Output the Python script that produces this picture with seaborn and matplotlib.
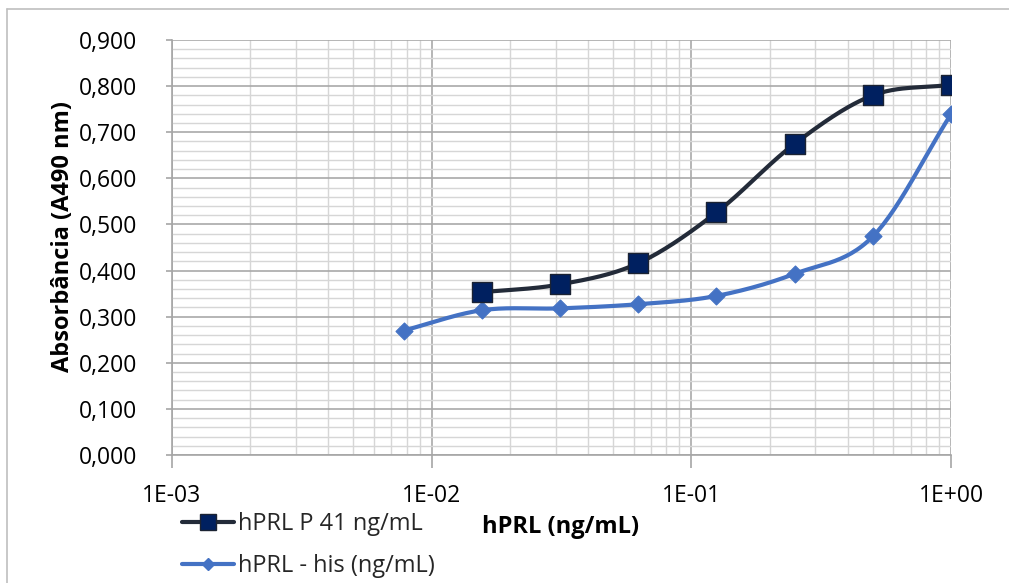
import numpy as np
import pandas as pd
import matplotlib
matplotlib.use("Agg")
import matplotlib.pyplot as plt
import seaborn as sns
from matplotlib.lines import Line2D
from matplotlib.ticker import FixedLocator, LogLocator, MultipleLocator, FuncFormatter, NullFormatter

# ---- data ----
x_p41 = [0.015625, 0.03125, 0.0625, 0.125, 0.25, 0.5, 1.0]
y_p41 = [0.353, 0.370, 0.416, 0.526, 0.675, 0.780, 0.803]
x_his = [0.0078125, 0.015625, 0.03125, 0.0625, 0.125, 0.25, 0.5, 1.0]
y_his = [0.270, 0.314, 0.318, 0.327, 0.345, 0.393, 0.474, 0.739]
label_p41 = "hPRL P 41 ng/mL"
label_his = "hPRL - his (ng/mL)"
x_ticks = [1e-3, 1e-2, 1e-1, 1e0]
x_tick_labels = ["1E-03", "1E-02", "1E-01", "1E+00"]
y_ticks = [0.0, 0.1, 0.2, 0.3, 0.4, 0.5, 0.6, 0.7, 0.8, 0.9]
x_title = "hPRL (ng/mL)"
y_title = "Absorbância (A490 nm)"

c_p41_line = "#232b39"
c_p41_fill = "#002060"
c_his = "#4472c4"

sns.set_theme(style="white")
plt.rcParams["font.family"] = ["Open Sans", "DejaVu Sans"]

W, H = 1009, 583
fig = plt.figure(figsize=(W / 100, H / 100), dpi=100)
L, R, T, B = 172, 951, 40, 455
ax = fig.add_axes([L / W, 1 - B / H, (R - L) / W, (B - T) / H])


def smooth(xs, ys, n=30):
    # Catmull-Rom style smoothing (like spreadsheet "smoothed line") in log-x display space
    lx = np.log10(np.asarray(xs, float))
    yy = np.asarray(ys, float)
    sx = (R - L) / 3.0
    sy = (B - T) / 0.9
    P = np.column_stack([lx * sx, yy * sy])
    P = np.vstack([P[0] - (P[1] - P[0]), P, P[-1] + (P[-1] - P[-2])])
    out = []
    t = np.linspace(0, 1, n)
    for i in range(1, len(P) - 2):
        p0, p1, p2, p3 = P[i - 1], P[i], P[i + 1], P[i + 2]
        tt = t[:, None]
        seg = 0.5 * ((2 * p1) + (-p0 + p2) * tt + (2 * p0 - 5 * p1 + 4 * p2 - p3) * tt ** 2
                     + (-p0 + 3 * p1 - 3 * p2 + p3) * tt ** 3)
        out.append(seg if i == 1 else seg[1:])
    out = np.vstack(out)
    return 10 ** (out[:, 0] / sx), out[:, 1] / sy


sx1, sy1 = smooth(x_p41, y_p41)
sx2, sy2 = smooth(x_his, y_his)
df_s1 = pd.DataFrame({"x": sx1, "y": sy1})
df_s2 = pd.DataFrame({"x": sx2, "y": sy2})
df_p1 = pd.DataFrame({"x": x_p41, "y": y_p41})
df_p2 = pd.DataFrame({"x": x_his, "y": y_his})

ax.set_xscale("log")
ax.set_xlim(1e-3, 1e0)
ax.set_ylim(0, 0.9)

# grid
ax.yaxis.set_major_locator(FixedLocator(y_ticks))
ax.yaxis.set_minor_locator(MultipleLocator(0.02))
ax.xaxis.set_major_locator(FixedLocator(x_ticks))
ax.xaxis.set_minor_locator(LogLocator(base=10, subs=np.arange(2, 10)))
ax.xaxis.set_minor_formatter(NullFormatter())
ax.grid(which="minor", color="#d6d6d6", lw=1.0, zorder=0)
ax.grid(which="major", color="#a9a9a9", lw=1.2, zorder=0)
ax.set_axisbelow(True)

sns.lineplot(data=df_s2, x="x", y="y", sort=False, ax=ax, color=c_his, lw=3.0,
             estimator=None, zorder=3)
sns.lineplot(data=df_s1, x="x", y="y", sort=False, ax=ax, color=c_p41_line, lw=3.0,
             estimator=None, zorder=4)
sns.scatterplot(data=df_p2, x="x", y="y", ax=ax, marker="D", s=75, color=c_his,
                edgecolor=c_his, linewidth=0.8, zorder=5)
sns.scatterplot(data=df_p1, x="x", y="y", ax=ax, marker="s", s=200, color=c_p41_fill,
                edgecolor="#1b2333", linewidth=1.0, zorder=6)

ax.set_xticklabels(x_tick_labels)
ax.yaxis.set_major_formatter(FuncFormatter(lambda v, p: f"{v:.3f}".replace(".", ",")))
ax.set_xlabel("")
ax.set_ylabel("")

for s in ["top", "right"]:
    ax.spines[s].set_visible(False)
for s in ["left", "bottom"]:
    ax.spines[s].set_color("#a6a6a6")
    ax.spines[s].set_linewidth(1.2)

ax.tick_params(axis="x", which="major", direction="out", length=9, width=1.2, color="#a6a6a6",
               labelsize=16.5, pad=12, bottom=True)
ax.tick_params(axis="x", which="minor", length=0)
ax.tick_params(axis="y", which="major", direction="out", length=4, width=1.2, color="#a6a6a6",
               labelsize=16.5, pad=21, left=True)
ax.tick_params(axis="y", which="minor", length=0)
for lab in ax.get_xticklabels() + ax.get_yticklabels():
    lab.set_color("#000000")

fig.text(63 / W, 1 - 237 / H, y_title, rotation=90, ha="center", va="center",
         fontsize=17, fontweight="bold", color="#000000")
fig.text(561 / W, 1 - 527 / H, x_title, ha="center", va="center",
         fontsize=17, fontweight="bold", color="#000000")

h1 = Line2D([], [], color=c_p41_line, lw=3.0, marker="s", markersize=11.5,
            markerfacecolor=c_p41_fill, markeredgecolor="#1b2333")
h2 = Line2D([], [], color=c_his, lw=3.0, marker="D", markersize=6.5,
            markerfacecolor=c_his, markeredgecolor=c_his)
leg = fig.legend([h1, h2], [label_p41, label_his], loc="center left",
                 bbox_to_anchor=(170 / W, 1 - 545 / H), frameon=False, fontsize=17,
                 handlelength=2.2, handletextpad=0.2, labelspacing=0.75, borderpad=0)

# outer chart border
fig.add_artist(Line2D([7 / W, 7 / W], [0, 1 - 9 / H], transform=fig.transFigure,
                      color="#bfbfbf", lw=1.2))
fig.add_artist(Line2D([7 / W, 1], [1 - 9 / H, 1 - 9 / H], transform=fig.transFigure,
                      color="#bfbfbf", lw=1.2))

fig.savefig("out.png", dpi=100, facecolor="white")
